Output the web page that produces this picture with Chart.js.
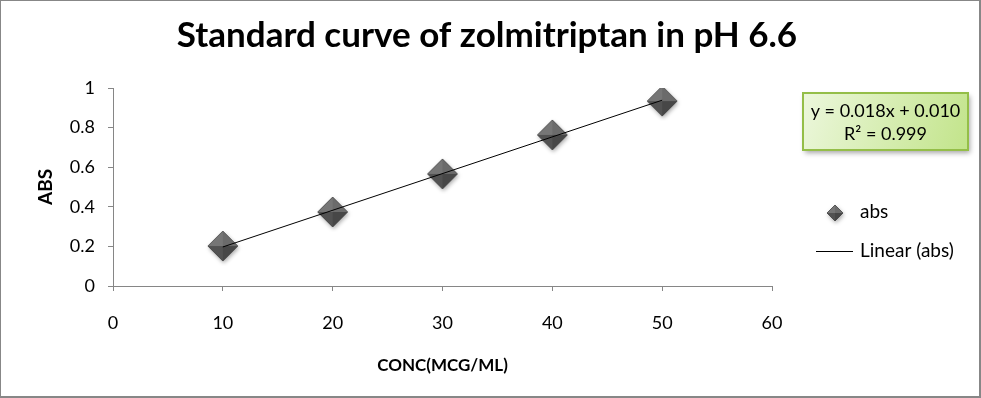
<!DOCTYPE html>
<html>
<head>
<meta charset="utf-8">
<script src="https://cdn.jsdelivr.net/npm/chart.js@4.4.1/dist/chart.umd.min.js"></script>
<style>
  html, body { margin: 0; padding: 0; background: #fff; }
  #wrap { width: 981px; height: 398px; }
</style>
</head>
<body>
<div id="wrap"><canvas id="chart" width="981" height="398"></canvas></div>
<script>
// values
const conc = [10, 20, 30, 40, 50];
const abs = [0.202, 0.374, 0.566, 0.763, 0.934];
const xTicks = ['0', '10', '20', '30', '40', '50', '60'];
const yTicks = ['0', '0.2', '0.4', '0.6', '0.8', '1'];
const titleText = 'Standard curve of zolmitriptan in pH 6.6';
const equationText = ['y = 0.018x + 0.010', 'R\u00b2 = 0.999'];

const FONT = 'Lato, "Noto Sans", sans-serif';

// least squares fit for the trend line
const n = conc.length;
const mx = conc.reduce((a, b) => a + b, 0) / n;
const my = abs.reduce((a, b) => a + b, 0) / n;
let sxy = 0, sxx = 0;
conc.forEach((x, i) => { sxy += (x - mx) * (abs[i] - my); sxx += (x - mx) * (x - mx); });
const slope = sxy / sxx;
const intercept = my - slope * mx;
const xFirst = conc[0], xLast = conc[n - 1];

// shaded diamond marker
function makeDiamond(r) {
  const pad = 5;
  const s = r * 2 + pad * 2;
  const c = document.createElement('canvas');
  c.width = s; c.height = s;
  const g = c.getContext('2d');
  const cx = s / 2, cy = s / 2;
  g.save();
  g.shadowColor = 'rgba(0,0,0,0.35)';
  g.shadowBlur = 4;
  g.shadowOffsetX = 1;
  g.shadowOffsetY = 2;
  g.beginPath();
  g.moveTo(cx, cy - r); g.lineTo(cx + r, cy); g.lineTo(cx, cy + r); g.lineTo(cx - r, cy); g.closePath();
  g.fillStyle = '#555';
  g.fill();
  g.restore();
  const facet = (ax, ay, bx, by, col) => {
    g.beginPath(); g.moveTo(cx, cy); g.lineTo(ax, ay); g.lineTo(bx, by); g.closePath();
    g.fillStyle = col; g.fill();
  };
  facet(cx - r, cy, cx, cy - r, '#767676');
  facet(cx, cy - r, cx + r, cy, '#6b6b6b');
  facet(cx + r, cy, cx, cy + r, '#474747');
  facet(cx, cy + r, cx - r, cy, '#525252');
  g.beginPath();
  g.moveTo(cx, cy - r); g.lineTo(cx + r, cy); g.lineTo(cx, cy + r); g.lineTo(cx - r, cy); g.closePath();
  g.strokeStyle = 'rgba(60,60,60,0.8)'; g.lineWidth = 0.8; g.stroke();
  return c;
}
const marker = makeDiamond(15);
const legendMarker = makeDiamond(8);

const extras = {
  id: 'extras',
  afterDraw(chart) {
    const ctx = chart.ctx;
    ctx.save();
    // outer border
    ctx.fillStyle = '#878787';
    ctx.fillRect(0, 0, 981, 1);
    ctx.fillRect(0, 0, 1, 398);
    ctx.fillRect(979, 0, 2, 398);
    ctx.fillRect(0, 396, 981, 2);

    // title, centred on the whole chart
    ctx.fillStyle = '#000';
    ctx.font = 'bold 35px ' + FONT;
    ctx.textAlign = 'center';
    ctx.textBaseline = 'alphabetic';
    ctx.fillText(titleText, 487, 47);

    // equation box
    const bx = 803, by = 93, bw = 165, bh = 57;
    ctx.save();
    ctx.shadowColor = 'rgba(0,0,0,0.35)';
    ctx.shadowBlur = 5;
    ctx.shadowOffsetX = 2;
    ctx.shadowOffsetY = 3;
    const grad = ctx.createLinearGradient(bx, by, bx + bw, by + bh);
    grad.addColorStop(0, '#ecf7dc');
    grad.addColorStop(1, '#c2e48a');
    ctx.fillStyle = grad;
    ctx.fillRect(bx, by, bw, bh);
    ctx.restore();
    ctx.strokeStyle = '#94be48';
    ctx.lineWidth = 2;
    ctx.strokeRect(bx, by, bw, bh);
    ctx.fillStyle = '#000';
    ctx.font = '18px ' + FONT;
    ctx.textAlign = 'center';
    ctx.textBaseline = 'middle';
    ctx.fillText(equationText[0], bx + bw / 2, 111);
    ctx.fillText(equationText[1], bx + bw / 2, 134);

    // legend
    ctx.drawImage(legendMarker, 835 - legendMarker.width / 2, 213 - legendMarker.height / 2);
    ctx.font = '19px ' + FONT;
    ctx.textAlign = 'left';
    ctx.fillText('abs', 860, 212);
    ctx.beginPath();
    ctx.moveTo(816, 251.5); ctx.lineTo(853, 251.5);
    ctx.strokeStyle = '#000'; ctx.lineWidth = 1; ctx.stroke();
    ctx.fillText('Linear (abs)', 860, 251);
    ctx.restore();
  }
};

new Chart(document.getElementById('chart'), {
  type: 'scatter',
  data: {
    datasets: [
      {
        label: 'Linear (abs)',
        type: 'line',
        data: [{ x: xFirst, y: slope * xFirst + intercept }, { x: xLast, y: slope * xLast + intercept }],
        borderColor: '#000',
        borderWidth: 1,
        pointRadius: 0,
        fill: false,
        order: 0
      },
      {
        label: 'abs',
        data: conc.map((x, i) => ({ x: x, y: abs[i] })),
        pointStyle: marker,
        order: 1
      }
    ]
  },
  options: {
    responsive: false,
    animation: false,
    layout: { padding: { top: 88, right: 209, bottom: 0, left: 0 } },
    plugins: {
      legend: { display: false },
      tooltip: { enabled: false },
      title: { display: false }
    },
    scales: {
      x: {
        type: 'linear',
        min: 0, max: 60,
        ticks: {
          stepSize: 10,
          color: '#000',
          font: { family: FONT, size: 18 },
          padding: 21,
          callback: (v, i) => xTicks[i]
        },
        grid: { drawOnChartArea: false, tickLength: 5, color: '#868686' },
        border: { color: '#868686' },
        title: {
          display: true,
          text: 'CONC(MCG/ML)',
          color: '#000',
          font: { family: FONT, size: 17, weight: 'bold' },
          padding: { top: 0, bottom: 22 }
        },
        afterFit: s => { s.height = 112; }
      },
      y: {
        min: 0, max: 1,
        ticks: {
          stepSize: 0.2,
          color: '#000',
          font: { family: FONT, size: 18 },
          padding: 13,
          callback: (v, i) => yTicks[i]
        },
        grid: { drawOnChartArea: false, tickLength: 5, color: '#868686' },
        border: { color: '#868686' },
        title: {
          display: true,
          text: 'ABS',
          color: '#000',
          font: { family: FONT, size: 19, weight: 'bold' },
          padding: { top: 34, bottom: 0 }
        },
        afterFit: s => { s.width = 113; }
      }
    }
  },
  plugins: [extras]
});
</script>
</body>
</html>
